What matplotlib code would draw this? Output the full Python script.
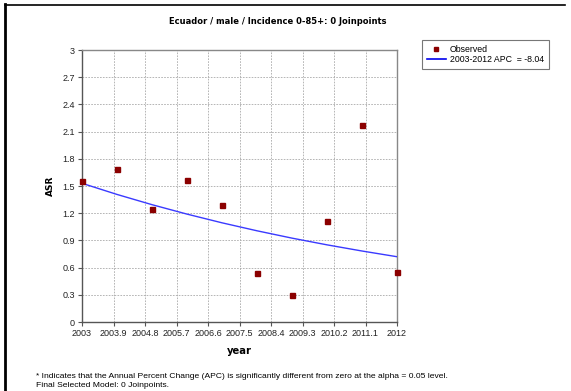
import numpy as np
import matplotlib.pyplot as plt
from matplotlib.lines import Line2D

years = [2003, 2004, 2005, 2006, 2007, 2008, 2009, 2010, 2011, 2012]
asr_observed = [1.555, 1.69, 1.245, 1.565, 1.29, 0.54, 0.30, 1.115, 2.17, 0.55]
# fitted joinpoint model (APC = -8.04)
asr_fitted = [1.53, 1.407, 1.294, 1.190, 1.094, 1.006, 0.925, 0.851, 0.783, 0.720]

x_ticks = [2003, 2003.9, 2004.8, 2005.7, 2006.6, 2007.5, 2008.4, 2009.3, 2010.2, 2011.1, 2012]
x_ticklabels = ['2003', '2003.9', '2004.8', '2005.7', '2006.6', '2007.5', '2008.4',
                '2009.3', '2010.2', '2011.1', '2012']
y_ticks = [0, 0.3, 0.6, 0.9, 1.2, 1.5, 1.8, 2.1, 2.4, 2.7, 3]
y_ticklabels = ['0', '0.3', '0.6', '0.9', '1.2', '1.5', '1.8', '2.1', '2.4', '2.7', '3']

plt.rcParams['font.family'] = ['Liberation Sans', 'DejaVu Sans']

W, H = 571, 391
fig = plt.figure(figsize=(W / 100, H / 100), dpi=100)

# plot area in pixels
left, right, top, bottom = 82, 397, 50, 322
ax = fig.add_axes([left / W, 1 - bottom / H, (right - left) / W, (bottom - top) / H])

ax.plot(years, asr_fitted, color='#3a3aff', lw=1.0, zorder=3)
ax.plot(years, asr_observed, ls='none', marker='s', ms=3.6, color='#8b0000', zorder=4, clip_on=False)

ax.set_xlim(2003, 2012)
ax.set_ylim(0, 3)
ax.set_xticks(x_ticks)
ax.set_xticklabels(x_ticklabels)
ax.set_yticks(y_ticks)
ax.set_yticklabels(y_ticklabels)
ax.tick_params(labelsize=6.5, length=3, width=0.8, color='#555555', pad=2, labelcolor='#222222')
ax.grid(True, color='#aaaaaa', ls=(0, (2, 1.5)), lw=0.6)
for s in ax.spines.values():
    s.set_color('#888888')
    s.set_linewidth(1.0)
ax.spines['left'].set_color('#555555')
ax.spines['bottom'].set_color('#555555')

fig.text(278 / W, 1 - 22 / H, 'Ecuador / male / Incidence 0-85+: 0 Joinpoints',
         ha='center', va='center', fontsize=6.0, fontweight='bold', family=['DejaVu Sans'])
fig.text(50 / W, 1 - 186 / H, 'ASR', rotation=90, ha='center', va='center',
         fontsize=6.5, fontweight='bold', family=['DejaVu Sans'])
fig.text(239 / W, 1 - 351 / H, 'year', ha='center', va='center',
         fontsize=7.2, fontweight='bold', family=['DejaVu Sans'])
fig.text(36 / W, 1 - 377 / H,
         '* Indicates that the Annual Percent Change (APC) is significantly different from zero at the alpha = 0.05 level.',
         ha='left', va='center', fontsize=6.1)
fig.text(36 / W, 1 - 385.5 / H, 'Final Selected Model: 0 Joinpoints.',
         ha='left', va='center', fontsize=6.1)

handles = [Line2D([], [], ls='none', marker='s', ms=2.8, color='#8b0000'),
           Line2D([], [], color='#0000ee', lw=1.2)]
leg = fig.legend(handles, ['Observed', '2003-2012 APC  = -8.04'],
                 loc='upper left', bbox_to_anchor=(422 / W, 1 - 40 / H),
                 fontsize=6.3, frameon=True, fancybox=False, handlelength=2.2,
                 handletextpad=0.4, borderpad=0.55, labelspacing=0.15, borderaxespad=0)
leg.get_frame().set_edgecolor('#555555')
leg.get_frame().set_linewidth(0.8)

# window frame lines
fig.add_artist(Line2D([5 / W, 5 / W], [0, 1 - 4 / H], color='black', lw=2))
fig.add_artist(Line2D([5 / W, 565 / W], [1 - 4.5 / H, 1 - 4.5 / H], color='black', lw=1.2))

fig.savefig('out.png', dpi=100)
